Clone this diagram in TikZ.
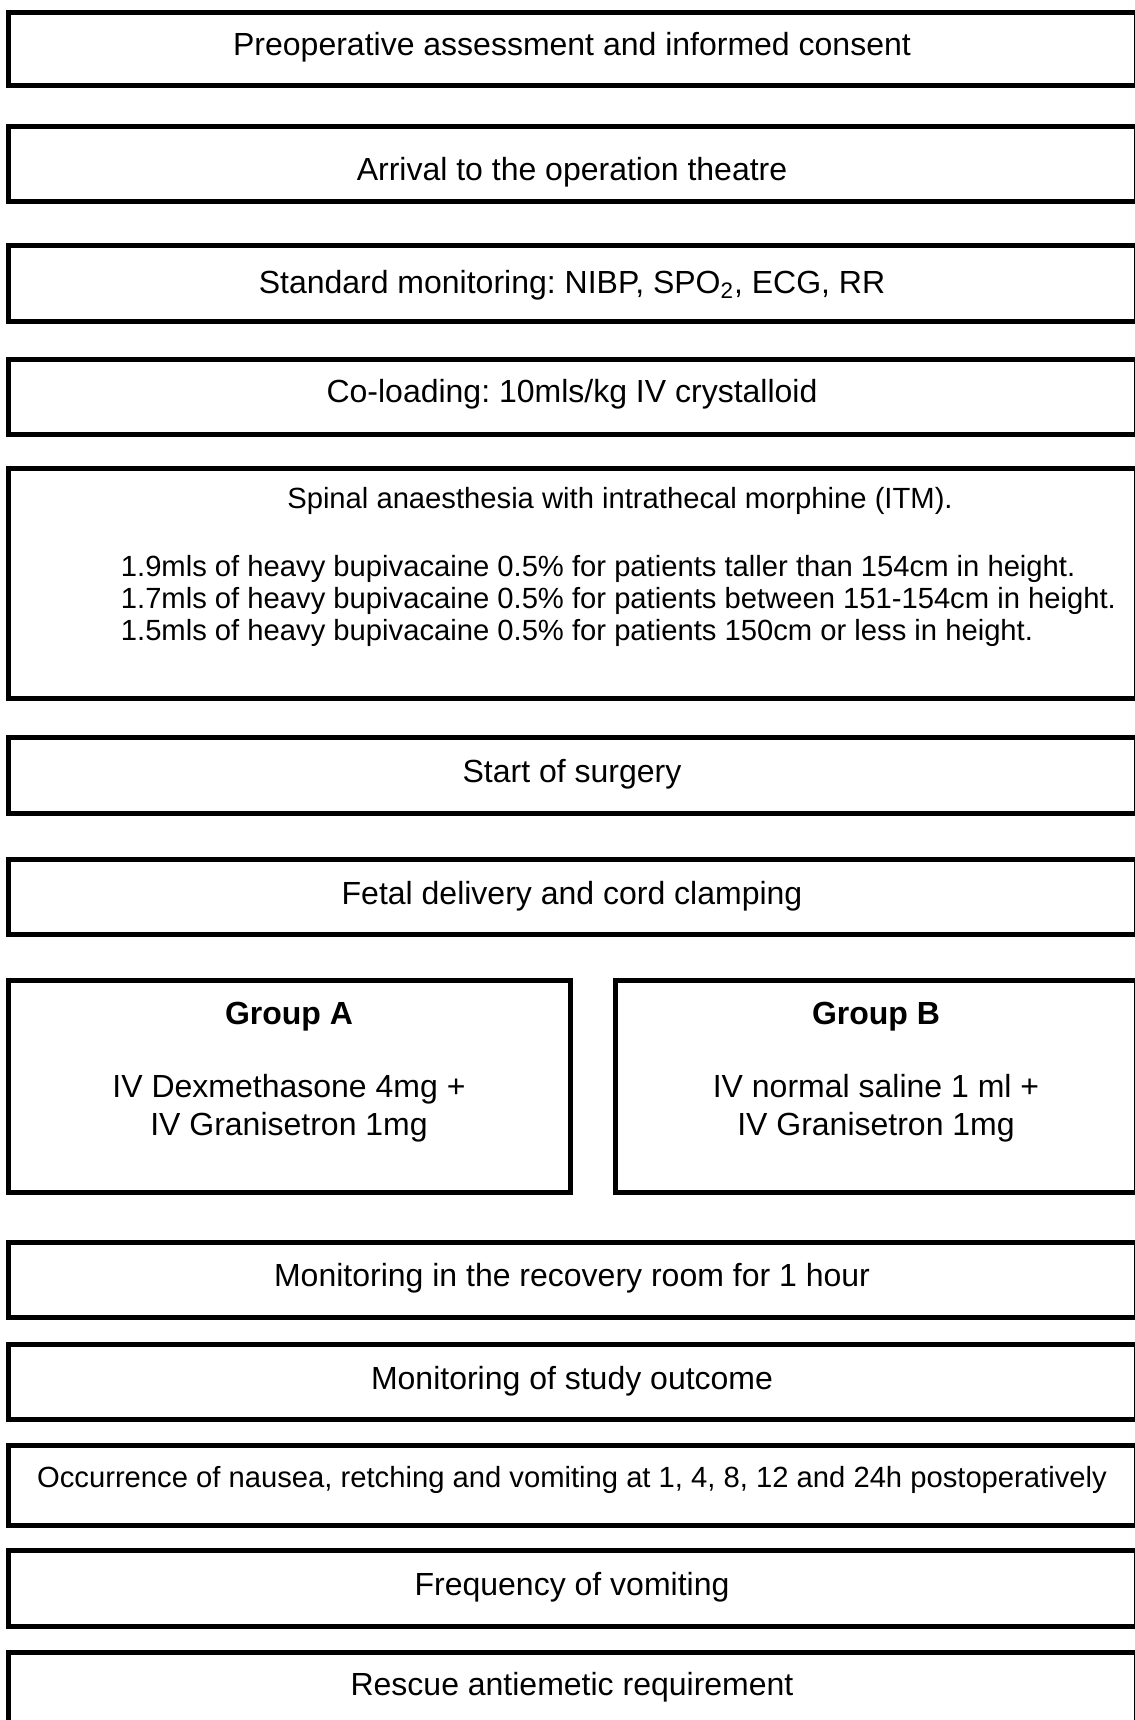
\documentclass[tikz,border=0pt]{standalone}
\usepackage{fontspec}
\setmainfont{Liberation Sans}
\usepackage{tikz}
\frenchspacing

\begin{document}
\begin{tikzpicture}[x=0.5pt,y=0.5pt,yscale=-1,xscale=1,
  boxline/.style={line width=2.5pt},
  txt/.style={inner sep=0.75pt,font=\fontsize{16}{19.2}\selectfont},
  smalltxt/.style={inner sep=0.75pt,font=\fontsize{14.6}{17.5}\selectfont}]
\useasboundingbox (0,0) rectangle (1135,1720);
\clip (0,0) rectangle (1135,1720);

%Shape: Rectangle [id:preop]
\draw [boxline] (8.5,12.5) -- (1136,12.5) -- (1136,85.5) -- (8.5,85.5) -- cycle ;
%Shape: Rectangle [id:arrive]
\draw [boxline] (8.5,126.5) -- (1136,126.5) -- (1136,201.5) -- (8.5,201.5) -- cycle ;
%Shape: Rectangle [id:monit]
\draw [boxline] (8.5,245.5) -- (1136,245.5) -- (1136,321.5) -- (8.5,321.5) -- cycle ;
%Shape: Rectangle [id:coload]
\draw [boxline] (8.5,359.5) -- (1136,359.5) -- (1136,434.5) -- (8.5,434.5) -- cycle ;
%Shape: Rectangle [id:spinal]
\draw [boxline] (8.5,468.5) -- (1136,468.5) -- (1136,698.5) -- (8.5,698.5) -- cycle ;
%Shape: Rectangle [id:start]
\draw [boxline] (8.5,737.5) -- (1136,737.5) -- (1136,813.5) -- (8.5,813.5) -- cycle ;
%Shape: Rectangle [id:fetal]
\draw [boxline] (8.5,859.5) -- (1136,859.5) -- (1136,934.5) -- (8.5,934.5) -- cycle ;
%Shape: Rectangle [id:grpA]
\draw [boxline] (8.5,980.5) -- (570,980.5) -- (570,1192.5) -- (8.5,1192.5) -- cycle ;
%Shape: Rectangle [id:grpB]
\draw [boxline] (615.5,980.5) -- (1136,980.5) -- (1136,1192.5) -- (615.5,1192.5) -- cycle ;
%Shape: Rectangle [id:recov]
\draw [boxline] (8.5,1242.5) -- (1136,1242.5) -- (1136,1317.5) -- (8.5,1317.5) -- cycle ;
%Shape: Rectangle [id:outcome]
\draw [boxline] (8.5,1344.5) -- (1136,1344.5) -- (1136,1419.5) -- (8.5,1419.5) -- cycle ;
%Shape: Rectangle [id:occur]
\draw [boxline] (8.5,1445.5) -- (1136,1445.5) -- (1136,1525.5) -- (8.5,1525.5) -- cycle ;
%Shape: Rectangle [id:freq]
\draw [boxline] (8.5,1550.5) -- (1136,1550.5) -- (1136,1626.5) -- (8.5,1626.5) -- cycle ;
%Shape: Rectangle [id:rescue]
\draw [boxline] (8.5,1652.5) -- (1136,1652.5) -- (1136,1730) -- (8.5,1730) -- cycle ;

% Text Node
\draw (572,55) node [anchor=base][txt] (preoptxt) {Preoperative assessment and informed consent};
% Text Node
\draw (572,180) node [anchor=base][txt] (arrivetxt) {Arrival to the operation theatre};
% Text Node
\draw (572,293.5) node [anchor=base][txt] (monittxt) {Standard monitoring: NIBP, SPO\textsubscript{2}, ECG, RR};
% Text Node
\draw (572,402.5) node [anchor=base][txt] (coloadtxt) {Co-loading: 10mls/kg IV crystalloid};
% Text Node
\draw (620,508) node [anchor=base][smalltxt] (spinaltxt) {Spinal anaesthesia with intrathecal morphine (ITM).};
% Text Node
\draw (119,576) node [anchor=base west][smalltxt] (doseA) {1.9mls of heavy bupivacaine 0.5\% for patients taller than 154cm in height.};
% Text Node
\draw (119,608) node [anchor=base west][smalltxt] (doseB) {1.7mls of heavy bupivacaine 0.5\% for patients between 151-154cm in height.};
% Text Node
\draw (119,640) node [anchor=base west][smalltxt] (doseC) {1.5mls of heavy bupivacaine 0.5\% for patients 150cm or less in height.};
% Text Node
\draw (572,782.5) node [anchor=base][txt] (starttxt) {Start of surgery};
% Text Node
\draw (572,904.5) node [anchor=base][txt] (fetaltxt) {Fetal delivery and cord clamping};
% Text Node
\draw (289,1024) node [anchor=base][txt] (grpAhead) {\textbf{Group A}};
% Text Node
\draw (289,1097) node [anchor=base][txt] (grpAline) {IV Dexmethasone 4mg +};
% Text Node
\draw (289,1135) node [anchor=base][txt] (grpAlinetwo) {IV Granisetron 1mg};
% Text Node
\draw (876,1024) node [anchor=base][txt] (grpBhead) {\textbf{Group B}};
% Text Node
\draw (876,1097) node [anchor=base][txt] (grpBline) {IV normal saline 1 ml +};
% Text Node
\draw (876,1135) node [anchor=base][txt] (grpBlinetwo) {IV Granisetron 1mg};
% Text Node
\draw (572,1286.5) node [anchor=base][txt] (recovtxt) {Monitoring in the recovery room for 1 hour};
% Text Node
\draw (572,1389.5) node [anchor=base][txt] (outcometxt) {Monitoring of study outcome};
% Text Node
\draw (572,1487) node [anchor=base][smalltxt] (occurtxt) {Occurrence of nausea, retching and vomiting at 1, 4, 8, 12 and 24h postoperatively};
% Text Node
\draw (572,1595) node [anchor=base][txt] (freqtxt) {Frequency of vomiting};
% Text Node
\draw (572,1695) node [anchor=base][txt] (rescuetxt) {Rescue antiemetic requirement};

\end{tikzpicture}
\end{document}
